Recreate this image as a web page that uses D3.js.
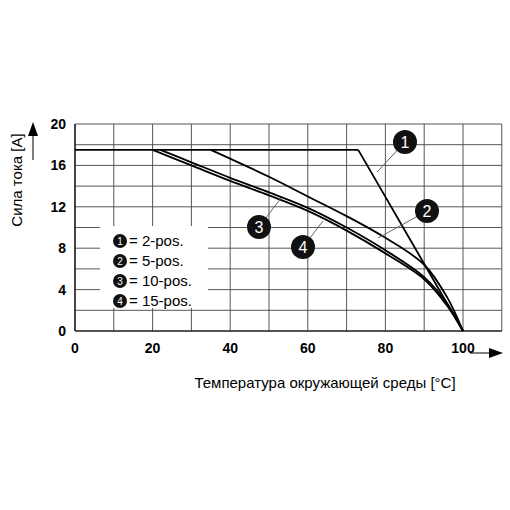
<!DOCTYPE html><html><head><meta charset="utf-8"><script src="https://cdn.jsdelivr.net/npm/d3@7"></script>
<style>body{margin:0;background:#fff}</style></head><body><svg id="c" width="510" height="510"></svg>
<script>
const xTicks=[0,20,40,60,80,100];
const yTicks=[0,4,8,12,16,20];
const flat=[[0,17.5],[73,17.5]];
const s1=[[73,17.5],[100,0]];
const s2=[[35,17.5],[50,14.9],[60,13.0],[70,11.1],[80,9.0],[90,6.4],[96,3.2],[100,0]];
const s3=[[22,17.5],[30,16.3],[40,14.8],[50,13.4],[60,11.9],[70,10.0],[80,7.8],[90,5.2],[96,2.6],[100,0]];
const s4=[[20,17.5],[30,16.0],[40,14.5],[50,13.1],[60,11.6],[70,9.7],[80,7.5],[90,5.0],[96,2.4],[100,0]];
const legend=["= 2-pos.","= 5-pos.","= 10-pos.","= 15-pos."];
const svg=d3.select("#c");
const x=d3.scaleLinear().domain([0,100]).range([75,463]);
const y=d3.scaleLinear().domain([0,20]).range([331,124]);
const g=svg.append("g");
d3.range(0,111,10).forEach(v=>g.append("line").attr("x1",x(v)).attr("x2",x(v)).attr("y1",y(0)).attr("y2",y(20)).attr("stroke","#444").attr("stroke-width",0.9));
d3.range(0,21,2).forEach(v=>g.append("line").attr("x1",x(0)).attr("x2",x(110)).attr("y1",y(v)).attr("y2",y(v)).attr("stroke","#444").attr("stroke-width",0.9));
g.append("line").attr("x1",x(0)).attr("x2",x(110)).attr("y1",y(0)).attr("y2",y(0)).attr("stroke","#000").attr("stroke-width",1.2);
g.append("line").attr("x1",x(0)).attr("x2",x(0)).attr("y1",y(0)).attr("y2",y(20)).attr("stroke","#000").attr("stroke-width",1.2);
g.append("rect").attr("x",100).attr("y",226).attr("width",108).attr("height",82).attr("fill","#fff");
const line=d3.line().x(d=>x(d[0])).y(d=>y(d[1]));
const lc=d3.line().x(d=>x(d[0])).y(d=>y(d[1])).curve(d3.curveCatmullRom.alpha(0.5));
[s4,s3,s2].forEach(s=>g.append("path").attr("d",lc(s)).attr("fill","none").attr("stroke","#000").attr("stroke-width",1.8));
[flat,s1].forEach(s=>g.append("path").attr("d",line(s)).attr("fill","none").attr("stroke","#000").attr("stroke-width",1.8));
const callouts=[["1",405,142,377,172],["2",427,211,378,238],["3",259,227,281,198],["4",303,247,323,221]];
callouts.forEach(c=>{g.append("line").attr("x1",c[1]).attr("y1",c[2]).attr("x2",c[3]).attr("y2",c[4]).attr("stroke","#666").attr("stroke-width",1);
g.append("circle").attr("cx",c[1]).attr("cy",c[2]).attr("r",12).attr("fill","#111");
g.append("text").attr("x",c[1]).attr("y",c[2]+6).attr("text-anchor","middle").attr("fill","#fff").attr("font-family","Liberation Sans").attr("font-size",16).text(c[0]);});
legend.forEach((t,i)=>{const yy=241+i*20;
g.append("circle").attr("cx",120).attr("cy",yy).attr("r",7).attr("fill","#111");
g.append("text").attr("x",120).attr("y",yy+4).attr("text-anchor","middle").attr("fill","#fff").attr("font-family","Liberation Sans").attr("font-size",10).text(i+1);
g.append("text").attr("x",129).attr("y",yy+5).attr("font-family","Liberation Sans").attr("font-size",15).text(t);});
xTicks.forEach(v=>g.append("text").attr("x",x(v)).attr("y",353).attr("text-anchor","middle").attr("font-family","Liberation Sans").attr("font-weight","bold").attr("font-size",14).text(v));
yTicks.forEach(v=>g.append("text").attr("x",66).attr("y",y(v)+5).attr("text-anchor","end").attr("font-family","Liberation Sans").attr("font-weight","bold").attr("font-size",14).text(v));
g.append("path").attr("d","M33,122 L28,136 L38,136 Z").attr("fill","#000");
g.append("line").attr("x1",33).attr("x2",33).attr("y1",134).attr("y2",160).attr("stroke","#000");
g.append("path").attr("d","M503,353 L489,348 L489,358 Z").attr("fill","#000");
g.append("line").attr("x1",470).attr("x2",491).attr("y1",353).attr("y2",353).attr("stroke","#000");
g.append("text").attr("transform","translate(22,180) rotate(-90)").attr("text-anchor","middle").attr("font-family","Liberation Sans").attr("font-size",15).text("Сила тока [A]");
g.append("text").attr("x",325).attr("y",388).attr("text-anchor","middle").attr("font-family","Liberation Sans").attr("font-size",15).text("Температура окружающей среды [°C]");
</script></body></html>
